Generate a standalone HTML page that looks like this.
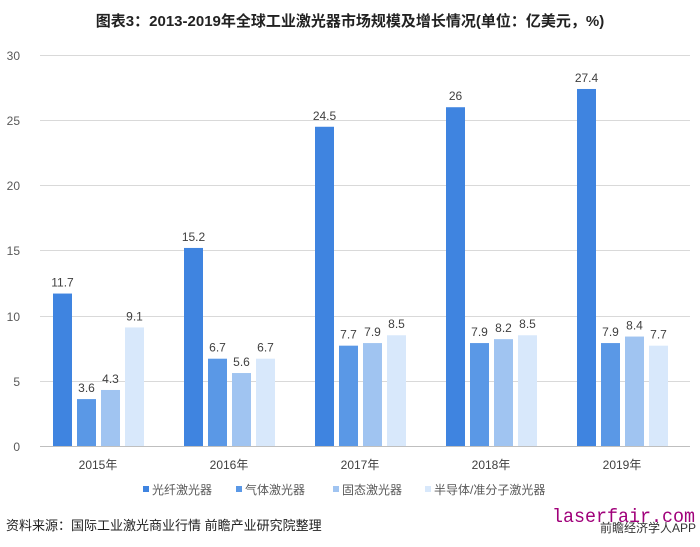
<!DOCTYPE html><html><head><meta charset="utf-8"><style>body{margin:0;background:#fff}svg{display:block}text{font-family:"Liberation Sans","Noto Sans CJK SC",sans-serif}</style></head><body>
<svg width="700" height="547" xmlns="http://www.w3.org/2000/svg">
<text x="350" y="26" text-anchor="middle" font-size="15" font-weight="bold" fill="#222">图表3：2013-2019年全球工业激光器市场规模及增长情况(单位：亿美元，%)</text>
<g stroke="#d9d9d9" stroke-width="1">
<line x1="40" y1="55.5" x2="690" y2="55.5"/><line x1="40" y1="120.5" x2="690" y2="120.5"/><line x1="40" y1="185.5" x2="690" y2="185.5"/><line x1="40" y1="250.5" x2="690" y2="250.5"/><line x1="40" y1="316.5" x2="690" y2="316.5"/><line x1="40" y1="381.5" x2="690" y2="381.5"/></g>
<line x1="40" y1="446.5" x2="690" y2="446.5" stroke="#bfbfbf"/>
<g font-size="12" fill="#595959" text-anchor="end">
<text x="20" y="60">30</text><text x="20" y="125">25</text><text x="20" y="190">20</text><text x="20" y="255">15</text><text x="20" y="321">10</text><text x="20" y="386">5</text><text x="20" y="451">0</text></g>
<g id="bars" font-size="12" fill="#404040" text-anchor="middle"></g>
<g font-size="12" fill="#404040" text-anchor="middle">
<text x="98" y="469">2015年</text><text x="229" y="469">2016年</text><text x="360" y="469">2017年</text><text x="491" y="469">2018年</text><text x="622" y="469">2019年</text></g>
<g font-size="12" fill="#595959">
<rect x="143" y="486" width="6" height="6" fill="#3f84e0"/><text x="152" y="494">光纤激光器</text>
<rect x="236" y="486" width="6" height="6" fill="#5a98e6"/><text x="245" y="494">气体激光器</text>
<rect x="333" y="486" width="6" height="6" fill="#a0c4f1"/><text x="342" y="494">固态激光器</text>
<rect x="425" y="486" width="6" height="6" fill="#d8e8fb"/><text x="434" y="494">半导体/准分子激光器</text></g>
<text x="6" y="530" font-size="13" fill="#222">资料来源：国际工业激光商业行情 前瞻产业研究院整理</text>
<text x="552" y="522" font-size="19" fill="#a0007a" textLength="143" lengthAdjust="spacingAndGlyphs" style="font-family:'Liberation Mono',monospace">laserfair.com</text>
<text x="696" y="532" font-size="12" fill="#333" text-anchor="end">前瞻经济学人APP</text>
</svg>
<script>
var d=[[11.7,3.6,4.3,9.1],[15.2,6.7,5.6,6.7],[24.5,7.7,7.9,8.5],[26,7.9,8.2,8.5],[27.4,7.9,8.4,7.7]];
var c=["#3f84e0","#5a98e6","#a0c4f1","#d8e8fb"];var g=document.getElementById("bars"),s="";
d.forEach(function(r,i){r.forEach(function(v,j){var x=53+i*131+j*24,y=446-v*13.03;
s+='<rect x="'+x+'" y="'+y+'" width="19" height="'+(446-y)+'" fill="'+c[j]+'"/><text x="'+(x+9.5)+'" y="'+(y-7)+'">'+v+'</text>';});});
g.innerHTML=s;
</script>
</body></html>
